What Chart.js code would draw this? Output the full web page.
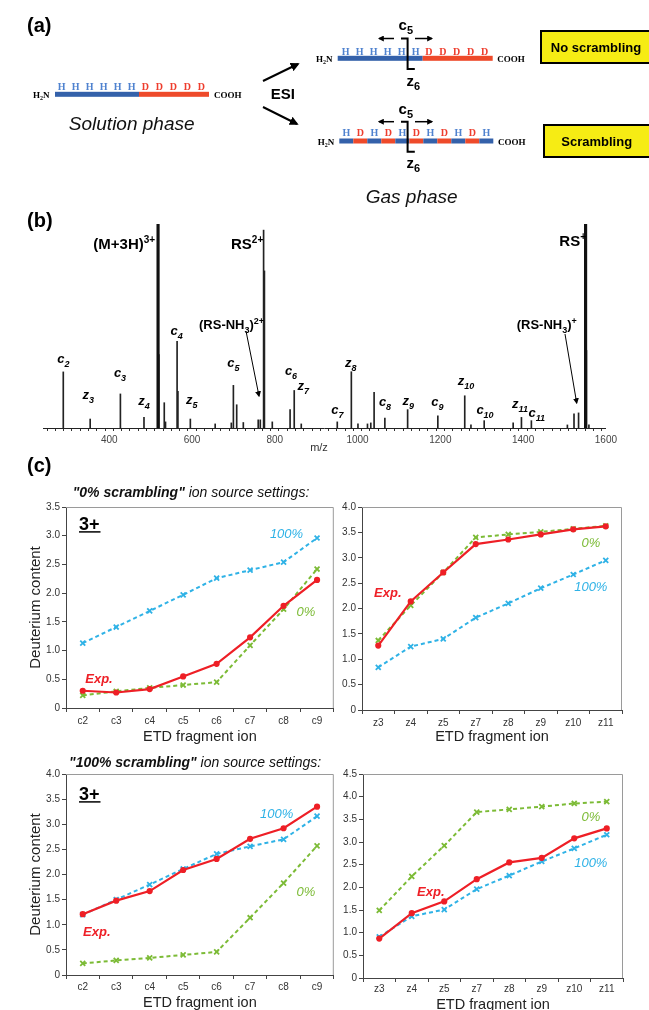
<!DOCTYPE html>
<html>
<head>
<meta charset="utf-8">
<script src="https://cdn.jsdelivr.net/npm/chart.js@4.4.1/dist/chart.umd.min.js"></script>
<style>
  html, body { margin: 0; padding: 0; background: #fff; }
  #page { position: relative; width: 649px; height: 1010px; overflow: hidden; }
  canvas { position: absolute; }
  #ov { position: absolute; left: 0; top: 0; }
</style>
</head>
<body>
<div id="page">
  <canvas id="ms"   style="left:40px;top:215px"  width="580" height="235"></canvas>
  <canvas id="c0"   style="left:0;top:495px"     width="340" height="255"></canvas>
  <canvas id="z0"   style="left:320px;top:495px" width="329" height="255"></canvas>
  <canvas id="c100" style="left:0;top:760px"     width="340" height="252"></canvas>
  <canvas id="z100" style="left:320px;top:760px" width="329" height="254"></canvas>
  <svg id="ov" width="649" height="1010"></svg>
</div>
<script>
// ── (b) ETD spectrum: m/z and relative intensity (%) ───────────
const peakMz  = [289, 354, 427, 484, 520, 533, 536, 564, 566, 596, 656, 695, 700, 708, 724,
                 760, 765, 773, 775, 794, 837, 847, 864, 951, 985, 1001, 1024, 1032, 1040,
                 1066, 1121, 1194, 1259, 1274, 1306, 1376, 1396, 1420, 1507, 1523, 1534, 1553, 1559];
const peakInt = [27.5, 4.4, 16.7, 5.2, 36, 12.4, 3, 42.5, 18, 4.4, 2, 2.5, 20.9, 11.4, 2.7,
                 4, 4, 97, 77, 3, 9, 18.4, 2, 3, 27.6, 2, 2, 2.5, 17.5,
                 4.9, 9, 6, 15.8, 1.5, 3.6, 2.5, 5.2, 3.6, 1.5, 6.9, 7.4, 38, 1.5];
// precursor (M+3H)3+ and charge-reduced RS+
const precMz  = [518, 1551];
const precInt = [100, 100];

// ── (c) deuterium content per ETD fragment ─────────────────────
const cLabels = ["c2", "c3", "c4", "c5", "c6", "c7", "c8", "c9"];
const zLabels = ["z3", "z4", "z5", "z7", "z8", "z9", "z10", "z11"];

// "0% scrambling" ion source settings
const expC0   = [0.30, 0.27, 0.33, 0.55, 0.77, 1.23, 1.78, 2.23];
const fullC0  = [1.13, 1.41, 1.69, 1.97, 2.26, 2.40, 2.54, 2.96];
const noneC0  = [0.22, 0.29, 0.35, 0.40, 0.45, 1.09, 1.72, 2.42];
const expZ0   = [1.27, 2.14, 2.71, 3.27, 3.36, 3.46, 3.56, 3.62];
const fullZ0  = [0.84, 1.25, 1.40, 1.82, 2.10, 2.40, 2.67, 2.95];
const noneZ0  = [1.37, 2.06, 2.71, 3.40, 3.46, 3.51, 3.57, 3.63];

// "100% scrambling" ion source settings
const expC100  = [1.21, 1.48, 1.67, 2.09, 2.31, 2.71, 2.92, 3.35];
const fullC100 = [1.20, 1.50, 1.80, 2.11, 2.41, 2.56, 2.70, 3.16];
const noneC100 = [0.23, 0.29, 0.34, 0.40, 0.46, 1.14, 1.83, 2.57];
const expZ100  = [0.87, 1.43, 1.69, 2.18, 2.55, 2.65, 3.08, 3.30];
const fullZ100 = [0.91, 1.36, 1.51, 1.96, 2.26, 2.57, 2.86, 3.16];
const noneZ100 = [1.49, 2.24, 2.92, 3.66, 3.72, 3.78, 3.85, 3.89];

const RED = "#ee1f26", BLUE = "#2fb2e6", GREEN = "#7cbb36";
const FONT = "'Liberation Sans', Arial, sans-serif";

Chart.defaults.font.family = FONT;
Chart.defaults.color = "#333";

// ── Spectrum ───────────────────────────────────────────────────
const pts = (xs, ys) => xs.map((x, i) => ({ x, y: ys[i] }));

new Chart(document.getElementById("ms"), {
  type: "bar",
  data: {
    datasets: [
      { data: pts(precMz, precInt), backgroundColor: "#111", barThickness: 2.5, grouped: false },
      { data: pts(peakMz, peakInt), backgroundColor: "#222", barThickness: 1, grouped: false },
    ],
  },
  options: {
    responsive: false, animation: false,
    layout: { padding: { left: 3, right: 13, top: 9, bottom: 0 } },
    plugins: { legend: { display: false }, tooltip: { enabled: false } },
    scales: {
      x: {
        type: "linear", min: 240, max: 1600, offset: false,
        ticks: { stepSize: 20, autoSkip: false, maxRotation: 0, padding: 3,
                 font: { size: 10 }, color: "#444",
                 callback: v => (v % 200 === 0 ? String(v) : "") },
        grid: { drawOnChartArea: false, tickLength: 3, color: "#333" },
        border: { color: "#222" },
        afterFit: s => { s.height = 22; },
      },
      y: { display: false, min: 0, max: 100 },
    },
  },
});

// ── Deuterium content charts ───────────────────────────────────
const frame = {
  id: "frame",
  beforeDatasetsDraw(c) {
    const { ctx, chartArea: a } = c;
    ctx.save();
    ctx.strokeStyle = "#9a9a9a"; ctx.lineWidth = 1;
    ctx.beginPath();
    ctx.moveTo(a.left, a.top + 0.5);
    ctx.lineTo(a.right - 0.5, a.top + 0.5);
    ctx.lineTo(a.right - 0.5, a.bottom);
    ctx.stroke();
    ctx.restore();
  },
};

function deutChart(id, labels, exp, full, none, yMax, cfg) {
  const dashed = col => ({
    borderColor: col, backgroundColor: col, borderWidth: 2, borderDash: [4, 3],
    pointStyle: "crossRot", pointRadius: 3.5, pointBorderWidth: 1.8, tension: 0,
  });
  return new Chart(document.getElementById(id), {
    type: "line",
    data: {
      labels,
      datasets: [
        { label: "Exp.", data: exp, borderColor: RED, backgroundColor: RED, borderWidth: 2.2,
          pointRadius: 2, pointStyle: "circle", order: 0 },
        { label: "100%", data: full, ...dashed(BLUE), order: 1 },
        { label: "0%",   data: none, ...dashed(GREEN), order: 2 },
      ],
    },
    options: {
      responsive: false, animation: false,
      layout: { padding: cfg.pad },
      plugins: { legend: { display: false }, tooltip: { enabled: false } },
      scales: {
        x: {
          offset: true,
          grid: { offset: true, drawOnChartArea: false, tickLength: 4, color: "#444" },
          border: { color: "#444" },
          ticks: { font: { size: 10 }, color: "#333", padding: cfg.tPad },
          title: { display: true, text: "ETD fragment ion", font: { size: 14.5 }, color: "#222",
                   padding: { top: 0, bottom: cfg.xtPad } },
          afterFit: s => { s.height = cfg.xh; },
        },
        y: {
          min: 0, max: yMax,
          ticks: { stepSize: 0.5, font: { size: 10 }, color: "#333", padding: 2,
                   callback: v => (v === 0 ? "0" : v.toFixed(1)) },
          grid: { drawOnChartArea: false, tickLength: 4, color: "#444" },
          border: { color: "#444" },
          title: { display: cfg.yTitle, text: "Deuterium content", font: { size: 15 }, color: "#222",
                   padding: { top: 27, bottom: 0 } },
          afterFit: s => { s.width = cfg.yw; },
        },
      },
    },
    plugins: [frame],
  });
}

deutChart("c0",   cLabels, expC0,   fullC0,   noneC0,   3.5, { pad: { top: 12, right: 6 },  xh: 42, xtPad: 4, tPad: 3, yw: 66, yTitle: true });
deutChart("z0",   zLabels, expZ0,   fullZ0,   noneZ0,   4.0, { pad: { top: 12, right: 27 }, xh: 40, xtPad: 4, tPad: 3, yw: 42, yTitle: false });
deutChart("c100", cLabels, expC100, fullC100, noneC100, 4.0, { pad: { top: 14, right: 6 },  xh: 37, xtPad: 0, tPad: 2, yw: 66, yTitle: true });
deutChart("z100", zLabels, expZ100, fullZ100, noneZ100, 4.5, { pad: { top: 14, right: 26 }, xh: 36, xtPad: 0, tPad: 1, yw: 43, yTitle: false });

// ── Annotations / schematic (SVG overlay) ──────────────────────
const s = [];
s.push(`<defs>
  <marker id="ah" viewBox="0 0 10 10" refX="8" refY="5" markerWidth="9" markerHeight="9" markerUnits="userSpaceOnUse" orient="auto"><path d="M0,0 L10,5 L0,10 z" fill="#000"/></marker>
  <marker id="as" viewBox="0 0 10 10" refX="8" refY="5" markerWidth="6" markerHeight="6" markerUnits="userSpaceOnUse" orient="auto"><path d="M0,0 L10,5 L0,10 z" fill="#000"/></marker>
</defs>`);
const txt = (x, y, body, a = "") => s.push(`<text x="${x}" y="${y}" font-family="${FONT}" ${a}>${body}</text>`);
const sub = (t, fs) => `<tspan dy="4" font-size="${fs}">${t}</tspan>`;

// panel labels
txt(27, 32, "(a)", 'font-size="20" font-weight="bold"');
txt(27, 226.5, "(b)", 'font-size="20" font-weight="bold"');
txt(27, 472, "(c)", 'font-size="20" font-weight="bold"');

// peptide bars
const SERIF = "'Liberation Serif', 'DejaVu Serif', serif";
const HB = "#3461aa", HT = "#4f82cf", DB = "#ee4a2a", DT = "#ee3d2d";
function ends(x1, x2, y) {
  s.push(`<text x="${x1}" y="${y}" font-family="${SERIF}" font-weight="bold" font-size="9">H<tspan dy="2" font-size="6">2</tspan><tspan dy="-2">N</tspan></text>`);
  s.push(`<text x="${x2}" y="${y}" font-family="${SERIF}" font-weight="bold" font-size="9">COOH</text>`);
}
function letter(x, y, ch) {
  s.push(`<text x="${x}" y="${y}" text-anchor="middle" font-family="${SERIF}" font-weight="bold" font-size="10" fill="${ch === "H" ? HT : DT}">${ch}</text>`);
}
// solution phase
s.push(`<rect x="55" y="91.8" width="84" height="5" fill="${HB}"/><rect x="139" y="91.8" width="70" height="5" fill="${DB}"/>`);
for (let k = 0; k < 6; k++) letter(61.7 + 14 * k, 90, "H");
for (let k = 0; k < 5; k++) letter(145.3 + 14 * k, 90, "D");
ends(33, 214, 97.5);
// gas phase, no scrambling
s.push(`<rect x="337.7" y="55.8" width="85" height="5" fill="${HB}"/><rect x="422.7" y="55.8" width="70" height="5" fill="${DB}"/>`);
for (let k = 0; k < 6; k++) letter(345.7 + 14 * k, 54.5, "H");
for (let k = 0; k < 5; k++) letter(428.9 + 13.9 * k, 54.5, "D");
ends(316, 497.3, 61.5);
// gas phase, scrambling
for (let k = 0; k < 11; k++) {
  const h = k % 2 === 0;
  s.push(`<rect x="${339.3 + 14 * k}" y="138.5" width="14" height="5" fill="${h ? HB : DB}"/>`);
  letter(346.3 + 14 * k, 135.5, h ? "H" : "D");
}
ends(317.7, 498, 144.5);

// cleavage brackets
function bracket(yTop, yBot, yC, yZ) {
  s.push(`<polyline points="401,${yTop} 407.6,${yTop} 407.6,${yBot} 414.8,${yBot}" fill="none" stroke="#000" stroke-width="2"/>`);
  s.push(`<line x1="394" y1="${yTop}" x2="379" y2="${yTop}" stroke="#000" stroke-width="1.5" marker-end="url(#as)"/>`);
  s.push(`<line x1="415" y1="${yTop}" x2="432" y2="${yTop}" stroke="#000" stroke-width="1.5" marker-end="url(#as)"/>`);
  txt(405.8, yC, "c" + sub("5", 11), 'text-anchor="middle" font-size="15" font-weight="bold"');
  txt(413.3, yZ, "z" + sub("6", 11), 'text-anchor="middle" font-size="15" font-weight="bold"');
}
bracket(38.5, 69, 30, 85.5);
bracket(121.7, 151.7, 114, 168);

// ESI arrows
s.push(`<line x1="263" y1="81" x2="298" y2="64" stroke="#000" stroke-width="2" marker-end="url(#ah)"/>`);
s.push(`<line x1="263" y1="107" x2="297" y2="124" stroke="#000" stroke-width="2" marker-end="url(#ah)"/>`);
txt(282.8, 98.5, "ESI", 'text-anchor="middle" font-size="15" font-weight="bold"');
txt(131.7, 129.5, "Solution phase", 'text-anchor="middle" font-size="19" font-style="italic" fill="#111"');
txt(411.7, 202.5, "Gas phase", 'text-anchor="middle" font-size="19" font-style="italic" fill="#111"');

// result boxes
s.push(`<rect x="541" y="31" width="115" height="32" fill="#f6ec14" stroke="#000" stroke-width="2"/>`);
txt(596, 51.5, "No scrambling", 'text-anchor="middle" font-size="13" font-weight="bold"');
s.push(`<rect x="544" y="125" width="115" height="32" fill="#f6ec14" stroke="#000" stroke-width="2"/>`);
txt(596.7, 145.5, "Scrambling", 'text-anchor="middle" font-size="13" font-weight="bold"');

// spectrum annotations
const sup = (t, fs, dy) => `<tspan dy="${dy}" font-size="${fs}">${t}</tspan>`;
txt(93.3, 249, "(M+3H)" + sup("3+", 10, -6), 'font-size="15" font-weight="bold"');
txt(231, 249, "RS" + sup("2+", 10, -6), 'font-size="15" font-weight="bold"');
txt(559.3, 246, "RS" + sup("+", 10, -6), 'font-size="15" font-weight="bold"');
txt(199, 328.5, "(RS-NH" + sub("3", 9) + `<tspan dy="-4">)</tspan>` + sup("2+", 9, -5), 'font-size="13" font-weight="bold"');
txt(516.7, 328.5, "(RS-NH" + sub("3", 9) + `<tspan dy="-4">)</tspan>` + sup("+", 9, -5), 'font-size="13" font-weight="bold"');
s.push(`<line x1="246" y1="331" x2="259" y2="396" stroke="#000" stroke-width="1" marker-end="url(#as)"/>`);
s.push(`<line x1="565" y1="334" x2="576.7" y2="403" stroke="#000" stroke-width="1" marker-end="url(#as)"/>`);
txt(319, 451, "m/z", 'text-anchor="middle" font-size="11" fill="#333"');

const ionLabels = [
  ["c", "2", 63.3, 359.3], ["z", "3", 88.3, 395], ["c", "3", 120, 373.3], ["z", "4", 144, 401.7],
  ["c", "4", 176.7, 331.7], ["z", "5", 191.7, 400.7], ["c", "5", 233.3, 363.3], ["c", "6", 291, 371.7],
  ["z", "7", 303.3, 386.7], ["c", "7", 337.3, 410], ["z", "8", 350.7, 363.3], ["c", "8", 385, 402.7],
  ["z", "9", 408.3, 401.7], ["c", "9", 437.3, 402.7], ["z", "10", 466, 381], ["c", "10", 485, 410],
  ["z", "11", 520, 404], ["c", "11", 536.7, 413.3],
];
ionLabels.forEach(([t, n, x, y]) =>
  txt(x, y + 3.5, t + sub(n, 9), 'text-anchor="middle" font-size="13" font-weight="bold" font-style="italic"'));

// panel (c) headings
txt(72.7, 496.7, `<tspan font-weight="bold">"0% scrambling"</tspan> ion source settings:`, 'font-size="14" font-style="italic" fill="#111"');
txt(69, 766.7, `<tspan font-weight="bold">"100% scrambling"</tspan> ion source settings:`, 'font-size="14" font-style="italic" fill="#111"');

// in-chart labels
function tags(t3, tFull, tNone, tExp) {
  if (t3) {
    txt(79, t3 + 6.5, "3+", 'font-size="18" font-weight="bold"');
    s.push(`<line x1="79" y1="${t3 + 8.6}" x2="100.5" y2="${t3 + 8.6}" stroke="#000" stroke-width="1.5"/>`);
  }
  txt(tFull[0], tFull[1] + 4.7, "100%", `text-anchor="middle" font-size="13" font-style="italic" fill="${BLUE}"`);
  txt(tNone[0], tNone[1] + 4.7, "0%", `text-anchor="middle" font-size="13" font-style="italic" fill="${GREEN}"`);
  txt(tExp[0], tExp[1] + 4.7, "Exp.", `text-anchor="middle" font-size="13" font-weight="bold" font-style="italic" fill="${RED}"`);
}
tags(523.3, [286.5, 533], [306, 611.7], [99, 678.3]);
tags(0, [590.8, 586.7], [591, 542.3], [387.8, 592.7]);
tags(793.3, [276.7, 813.3], [306, 891.7], [96.8, 931.7]);
tags(0, [590.8, 862.3], [591, 816], [430.8, 891.7]);

document.getElementById("ov").innerHTML = s.join("\n");
</script>
</body>
</html>
